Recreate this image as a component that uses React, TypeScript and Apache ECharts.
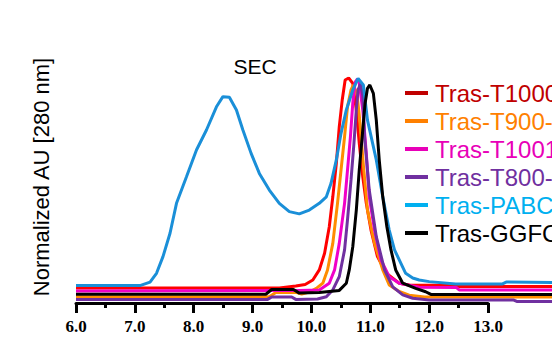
import React, { useEffect, useRef } from "react";
import * as echarts from "echarts";

const seriesNames = ["Tras-T1000", "Tras-T900-", "Tras-T1001", "Tras-T800-", "Tras-PABC", "Tras-GGFC"];
const lineColors = ["#ff0000", "#ff8c00", "#f000c8", "#7030a0", "#1a8fd8", "#000000"];
const legendColors = ["#c00000", "#ff8000", "#e800b8", "#7030a0", "#00b0f0", "#000000"];
const xTicks = [6, 7, 8, 9, 10, 11, 12, 13];

const t1000: number[][] = [
  [6.0, 0.067], [9.46, 0.067], [9.74, 0.076], [9.9, 0.082], [10.03, 0.102], [10.14, 0.147],
  [10.23, 0.221], [10.31, 0.339], [10.37, 0.472], [10.43, 0.621], [10.48, 0.784], [10.53, 0.902],
  [10.58, 0.991], [10.64, 1.0], [10.71, 0.976], [10.77, 0.858], [10.82, 0.71], [10.88, 0.561],
  [10.94, 0.443], [11.02, 0.324], [11.13, 0.206], [11.28, 0.132], [11.5, 0.088], [11.67, 0.08],
  [12.47, 0.078], [12.52, 0.073], [14.1, 0.073],
];
const t900: number[][] = [
  [6.0, 0.028], [9.29, 0.028], [9.4, 0.047], [9.74, 0.047], [9.84, 0.04], [9.97, 0.049],
  [10.09, 0.065], [10.2, 0.088], [10.28, 0.147], [10.37, 0.265], [10.45, 0.443], [10.51, 0.591],
  [10.57, 0.739], [10.62, 0.872], [10.68, 0.947], [10.72, 0.969], [10.78, 0.932], [10.82, 0.836],
  [10.89, 0.613], [10.96, 0.413], [11.08, 0.265], [11.22, 0.147], [11.33, 0.08], [11.5, 0.051],
  [11.67, 0.035], [11.93, 0.027], [14.1, 0.027],
];
const t1001: number[][] = [
  [6.0, 0.053], [9.8, 0.056], [10.14, 0.058], [10.31, 0.088], [10.4, 0.147], [10.48, 0.265],
  [10.57, 0.443], [10.62, 0.591], [10.67, 0.739], [10.71, 0.888], [10.75, 0.982], [10.79, 0.996],
  [10.82, 0.976], [10.88, 0.858], [10.94, 0.665], [10.99, 0.472], [11.08, 0.324], [11.19, 0.191],
  [11.33, 0.117], [11.5, 0.088], [11.84, 0.07], [12.47, 0.069], [12.52, 0.058], [14.1, 0.058],
];
const t800: number[][] = [
  [6.0, 0.016], [9.26, 0.016], [9.33, 0.027], [9.67, 0.027], [9.74, 0.016], [10.11, 0.018],
  [10.26, 0.028], [10.37, 0.058], [10.48, 0.117], [10.57, 0.236], [10.62, 0.369], [10.68, 0.547],
  [10.73, 0.71], [10.77, 0.858], [10.8, 0.947], [10.84, 0.973], [10.88, 0.924], [10.91, 0.739],
  [10.99, 0.502], [11.11, 0.295], [11.25, 0.147], [11.39, 0.072], [11.56, 0.036], [11.73, 0.021],
  [12.01, 0.013], [13.45, 0.013], [13.5, 0.007], [14.1, 0.007],
];
const pabc: number[][] = [
  [6.0, 0.078], [7.1, 0.078], [7.26, 0.093], [7.37, 0.132], [7.48, 0.206], [7.6, 0.31],
  [7.71, 0.443], [7.88, 0.561], [8.05, 0.68], [8.22, 0.769], [8.39, 0.872], [8.5, 0.917],
  [8.61, 0.914], [8.73, 0.858], [8.84, 0.769], [8.98, 0.665], [9.12, 0.576], [9.29, 0.502],
  [9.46, 0.443], [9.63, 0.406], [9.8, 0.396], [9.97, 0.413], [10.14, 0.443], [10.26, 0.472],
  [10.34, 0.532], [10.43, 0.636], [10.51, 0.754], [10.6, 0.858], [10.71, 0.947], [10.8, 0.998],
  [10.89, 0.969], [10.96, 0.813], [11.11, 0.636], [11.22, 0.472], [11.33, 0.324], [11.42, 0.236],
  [11.61, 0.132], [11.73, 0.111], [11.84, 0.102], [12.01, 0.095], [12.46, 0.084], [13.25, 0.084],
  [13.32, 0.093], [14.1, 0.091],
];
const ggfc: number[][] = [
  [6.0, 0.039], [9.23, 0.039], [9.33, 0.06], [9.7, 0.06], [9.8, 0.044], [10.14, 0.047],
  [10.48, 0.056], [10.6, 0.088], [10.65, 0.147], [10.71, 0.25], [10.77, 0.413], [10.82, 0.591],
  [10.88, 0.769], [10.92, 0.888], [10.96, 0.954], [11.0, 0.969], [11.06, 0.932], [11.11, 0.813],
  [11.16, 0.636], [11.22, 0.472], [11.29, 0.339], [11.36, 0.236], [11.44, 0.147], [11.56, 0.088],
  [11.78, 0.065], [11.95, 0.05], [12.04, 0.038], [14.1, 0.038],
];
const allData = [t1000, t900, t1001, t800, pabc, ggfc];

export default function App() {
  const ref = useRef<HTMLDivElement>(null);
  useEffect(() => {
    if (!ref.current) return;
    const chart = echarts.init(ref.current, undefined, { renderer: "svg" });
    const sans = "'Liberation Sans', Arial, sans-serif";
    const unit = 412 / 7;
    chart.setOption({
      animation: false,
      backgroundColor: "#ffffff",
      grid: [
        { left: 76, width: unit * 8.1, top: 78, bottom: 44 },
        { left: 76, width: 412, top: 78, bottom: 44 },
      ],
      xAxis: [
        { type: "value", gridIndex: 0, min: 6, max: 14.1, show: false },
        {
          type: "value",
          gridIndex: 1,
          min: 6,
          max: 13,
          interval: 1,
          axisLine: { show: true, lineStyle: { color: "#000", width: 3 } },
          axisTick: { show: true, length: 10, lineStyle: { color: "#000", width: 3 } },
          minorTick: { show: true, splitNumber: 2, length: 5, lineStyle: { color: "#000", width: 3 } },
          splitLine: { show: false },
          minorSplitLine: { show: false },
          axisLabel: {
            margin: 15,
            color: "#000",
            fontSize: 17,
            fontWeight: "bold",
            fontFamily: "'Liberation Serif', 'Times New Roman', serif",
            formatter: (v: number) => (xTicks.includes(v) ? v.toFixed(1) : ""),
          },
        },
      ],
      yAxis: [
        { type: "value", gridIndex: 0, min: 0, max: 1, show: false },
        { type: "value", gridIndex: 1, min: 0, max: 1, show: false },
      ],
      legend: {
        orient: "vertical",
        left: 405,
        top: 81,
        padding: 0,
        itemWidth: 23,
        itemHeight: 4,
        itemGap: 4,
        textStyle: { fontSize: 24, fontFamily: sans, lineHeight: 24, padding: [0, 0, 0, 2] },
        data: seriesNames.map((n, i) => ({
          name: n,
          icon: "rect",
          itemStyle: { color: legendColors[i] },
          textStyle: { color: legendColors[i] },
        })),
      },
      graphic: [
        {
          type: "text",
          x: 255,
          y: 66,
          style: { text: "SEC", fontSize: 21, fontFamily: sans, fill: "#000", textAlign: "center", textVerticalAlign: "middle" },
        },
        {
          type: "text",
          x: 41,
          y: 177,
          rotation: Math.PI / 2,
          style: {
            text: "Normalized AU [280 nm]",
            fontSize: 22,
            fontFamily: sans,
            fill: "#000",
            textAlign: "center",
            textVerticalAlign: "middle",
          },
        },
      ],
      series: seriesNames.map((n, i) => ({
        name: n,
        type: "line",
        xAxisIndex: 0,
        yAxisIndex: 0,
        data: allData[i],
        showSymbol: false,
        color: lineColors[i],
        lineStyle: { width: 3, color: lineColors[i] },
        z: 2 + i,
      })),
    });
    return () => chart.dispose();
  }, []);
  return <div ref={ref} style={{ position: "fixed", left: 0, top: 0, width: 552, height: 347 }} />;
}
